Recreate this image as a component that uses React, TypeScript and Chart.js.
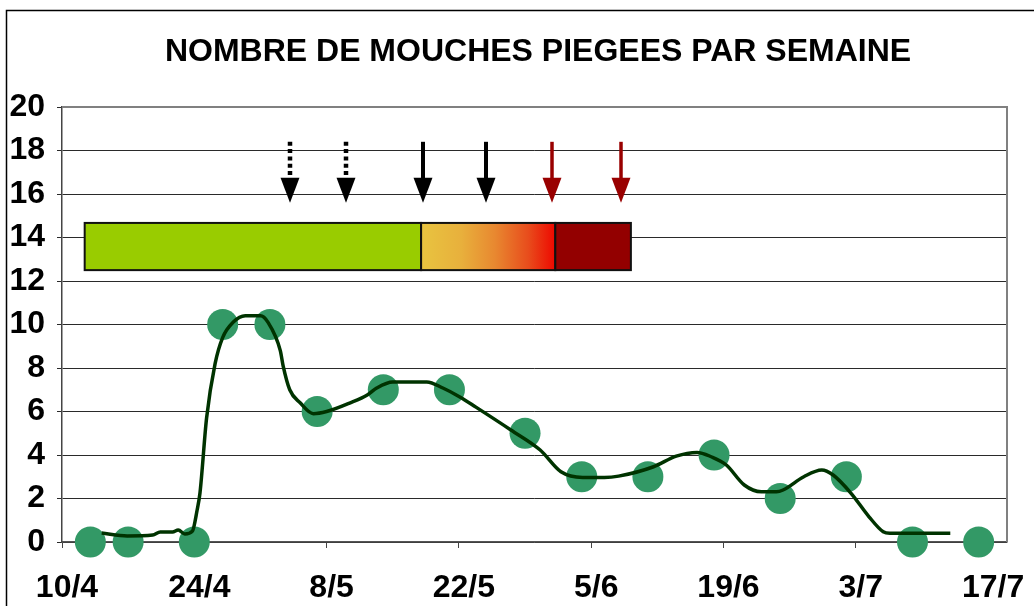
import React, { useEffect, useRef } from 'react';
import { Chart, registerables } from 'chart.js';

Chart.register(...registerables);

const TITLE = 'NOMBRE DE MOUCHES PIEGEES PAR SEMAINE';

// x axis in days since 10/4
const tickDays = [0, 14, 28, 42, 56, 70, 84, 98];
const tickLabels = ['10/4', '24/4', '8/5', '22/5', '5/6', '19/6', '3/7', '17/7'];

// weekly trap counts
const catchDays = [3, 7, 14, 17, 22, 27, 34, 41, 49, 55, 62, 69, 76, 83, 90, 97];
const catchCounts = [0, 0, 0, 10, 10, 6, 7, 7, 5, 3, 3, 4, 2, 3, 0, 0];

// smoothed trend curve
const trendDays = [4.2, 6.9, 9.6, 10.4, 11.7, 12.3, 13.0, 13.8, 14.3, 14.6, 15.3, 16.2, 17.0, 18.1, 19.4, 21.0, 21.8, 23.1, 23.4, 24.1, 25.2, 26.6, 28.0, 30.5, 32.3, 33.3, 35.0, 38.6, 40.3, 42.1, 43.8, 47.5, 50.6, 52.8, 55.1, 57.4, 58.9, 62.6, 65.0, 67.2, 68.7, 70.3, 72.2, 74.0, 75.6, 76.3, 78.5, 80.4, 81.6, 83.5, 85.4, 86.9, 87.6, 94.0];
const trendValues = [0.41, 0.28, 0.32, 0.46, 0.46, 0.55, 0.37, 0.5, 1.47, 2.25, 5.7, 8.2, 9.4, 10.1, 10.4, 10.4, 10.1, 8.8, 8.1, 7.0, 6.4, 5.9, 6.0, 6.4, 6.76, 7.08, 7.36, 7.36, 7.08, 6.67, 6.2, 5.15, 4.23, 3.23, 2.97, 2.97, 3.03, 3.46, 3.95, 4.12, 3.92, 3.54, 2.62, 2.31, 2.31, 2.39, 3.0, 3.31, 3.08, 2.24, 1.16, 0.47, 0.4, 0.4];

// phase band (days)
const phaseStarts = [2.4, 38.0, 52.2];
const phaseEnds = [38.0, 52.2, 60.2];
const phaseKinds = ['green', 'gradient', 'darkred'];
const phaseRange = [12.5, 14.67];

// arrows (days)
const arrowDays = [24.1, 30.0, 38.2, 44.9, 51.9, 59.2];
const arrowKinds = ['dotted', 'dotted', 'solid', 'solid', 'red', 'red'];
const arrowRange = [18.4, 15.6];

const FONT = '"Liberation Sans", Arial, Helvetica, sans-serif';

const decorPlugin = {
  id: 'decor',
  beforeDraw(chart: any) {
    const ctx = chart.ctx;
    ctx.save();
    ctx.fillStyle = '#ffffff';
    ctx.fillRect(0, 0, chart.width, chart.height);
    ctx.restore();
  },
  afterDatasetsDraw(chart: any) {
    const ctx = chart.ctx;
    const xs = chart.scales.x;
    const ys = chart.scales.y;
    const area = chart.chartArea;
    ctx.save();

    // plot area border (top, right)
    ctx.strokeStyle = '#808080';
    ctx.lineWidth = 2;
    ctx.beginPath();
    ctx.moveTo(area.left, area.top);
    ctx.lineTo(area.right, area.top);
    ctx.lineTo(area.right, area.bottom);
    ctx.stroke();

    // phase band
    const yTop = ys.getPixelForValue(phaseRange[1]);
    const yBot = ys.getPixelForValue(phaseRange[0]);
    for (let i = 0; i < phaseStarts.length; i++) {
      const x0 = xs.getPixelForValue(phaseStarts[i]);
      const x1 = xs.getPixelForValue(phaseEnds[i]);
      let fill: any = '#99CC00';
      if (phaseKinds[i] === 'gradient') {
        const g = ctx.createLinearGradient(x0, 0, x1, 0);
        g.addColorStop(0, '#E8C440');
        g.addColorStop(0.3, '#E8B03C');
        g.addColorStop(0.55, '#E88830');
        g.addColorStop(0.8, '#E84C1C');
        g.addColorStop(1, '#EE0800');
        fill = g;
      } else if (phaseKinds[i] === 'darkred') {
        fill = '#930000';
      }
      ctx.fillStyle = fill;
      ctx.fillRect(x0, yTop, x1 - x0, yBot - yTop);
      ctx.strokeStyle = '#111';
      ctx.lineWidth = 2;
      ctx.strokeRect(x0, yTop, x1 - x0, yBot - yTop);
    }

    // arrows
    const aTop = ys.getPixelForValue(arrowRange[0]);
    const aTip = ys.getPixelForValue(arrowRange[1]);
    const headLen = 25;
    const headHalf = 9.5;
    for (let i = 0; i < arrowDays.length; i++) {
      const x = Math.round(xs.getPixelForValue(arrowDays[i]));
      const kind = arrowKinds[i];
      const color = kind === 'red' ? '#990000' : '#000000';
      ctx.strokeStyle = color;
      ctx.fillStyle = color;
      ctx.lineCap = 'butt';
      ctx.lineWidth = kind === 'red' ? 3.5 : 4;
      if (kind === 'dotted') {
        ctx.lineWidth = 4.5;
        ctx.setLineDash([4, 3.3]);
      } else {
        ctx.setLineDash([]);
      }
      ctx.beginPath();
      ctx.moveTo(x, aTop);
      ctx.lineTo(x, aTip - headLen + 2);
      ctx.stroke();
      ctx.setLineDash([]);
      ctx.beginPath();
      ctx.moveTo(x - headHalf, aTip - headLen);
      ctx.lineTo(x + headHalf, aTip - headLen);
      ctx.lineTo(x, aTip);
      ctx.closePath();
      ctx.fill();
    }

    // title
    ctx.fillStyle = '#000';
    ctx.font = 'bold 32px ' + FONT;
    ctx.textAlign = 'center';
    ctx.textBaseline = 'alphabetic';
    ctx.fillText(TITLE, 538, 61);

    // outer chart border
    ctx.strokeStyle = '#000';
    ctx.lineWidth = 1.5;
    ctx.beginPath();
    ctx.moveTo(6.5, chart.height + 2);
    ctx.lineTo(6.5, 10.5);
    ctx.lineTo(chart.width + 2, 10.5);
    ctx.stroke();

    ctx.restore();
  },
};

export default function App() {
  const ref = useRef<HTMLCanvasElement | null>(null);

  useEffect(() => {
    if (!ref.current) return;
    const chart = new Chart(ref.current, {
      type: 'scatter',
      data: {
        datasets: [
          {
            type: 'line',
            data: trendDays.map((d, i) => ({ x: d, y: trendValues[i] })),
            borderColor: '#003300',
            borderWidth: 3.5,
            pointRadius: 0,
            fill: false,
            cubicInterpolationMode: 'monotone',
            order: 0,
            clip: false,
          } as any,
          {
            type: 'scatter',
            data: catchDays.map((d, i) => ({ x: d, y: catchCounts[i] })),
            backgroundColor: '#339966',
            borderWidth: 0,
            pointRadius: 15.5,
            pointHoverRadius: 15.5,
            order: 1,
            clip: false,
          } as any,
        ],
      },
      options: {
        responsive: false,
        animation: false,
        events: [],
        layout: { padding: { top: 107, right: 27, left: 0, bottom: 0 } },
        plugins: {
          legend: { display: false },
          title: { display: false },
          tooltip: { enabled: false },
        },
        scales: {
          x: {
            type: 'linear',
            min: 0,
            max: 100,
            afterBuildTicks: (scale: any) => {
              scale.ticks = tickDays.map((v) => ({ value: v }));
            },
            afterFit: (scale: any) => {
              scale.height = 64;
              scale.paddingLeft = 0;
              scale.paddingRight = 0;
            },
            grid: {
              drawOnChartArea: false,
              drawTicks: true,
              tickLength: 6,
              color: '#444',
            },
            border: { color: '#555', width: 1.5 },
            ticks: {
              autoSkip: false,
              maxRotation: 0,
              padding: 21,
              labelOffset: 5,
              color: '#000',
              font: { family: FONT, size: 32, weight: 'bold' },
              callback: (v: any) => {
                const idx = tickDays.indexOf(Number(v));
                return idx >= 0 ? tickLabels[idx] : '';
              },
            },
          },
          y: {
            min: 0,
            max: 20,
            afterFit: (scale: any) => {
              scale.width = 62;
              scale.paddingTop = 0;
              scale.paddingBottom = 0;
            },
            grid: {
              color: '#2a2a2a',
              lineWidth: 1,
              drawTicks: true,
              tickLength: 5,
            },
            border: { color: '#444', width: 1.5 },
            ticks: {
              stepSize: 2,
              padding: 12,
              color: '#000',
              font: { family: FONT, size: 32, weight: 'bold' },
            },
          },
        },
      } as any,
      plugins: [decorPlugin],
    });
    return () => chart.destroy();
  }, []);

  return (
    <div style={{ position: 'absolute', left: 0, top: 0, width: 1034, height: 606 }}>
      <canvas ref={ref} width={1034} height={606} />
    </div>
  );
}
